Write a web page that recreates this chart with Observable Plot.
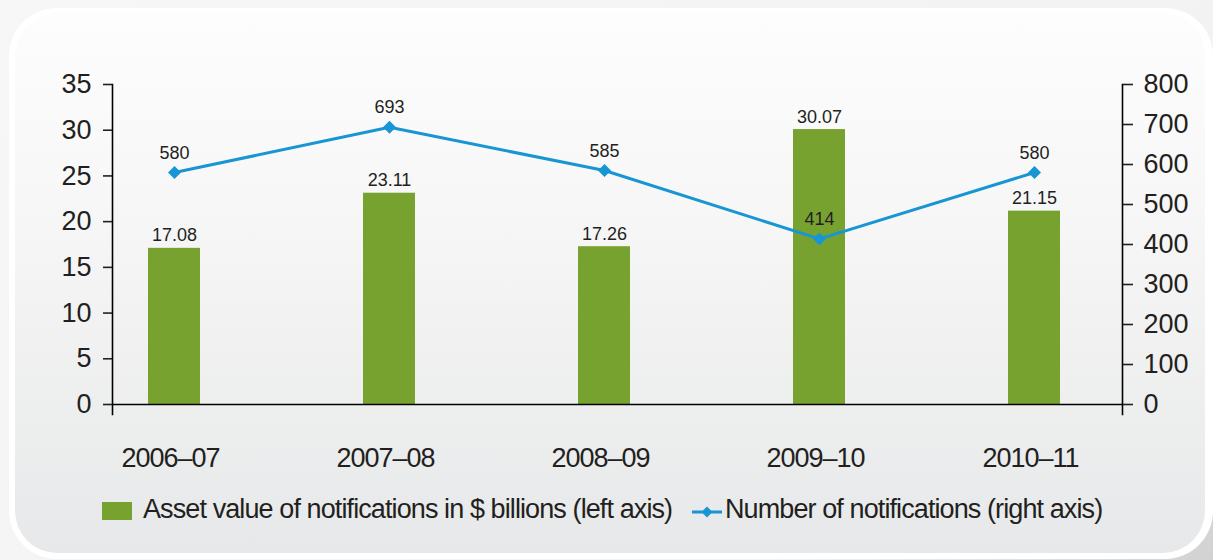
<!DOCTYPE html>
<html>
<head>
<meta charset="utf-8">
<script src="https://cdn.jsdelivr.net/npm/d3@7"></script>
<script src="https://cdn.jsdelivr.net/npm/@observablehq/plot@0.6"></script>
<style>
  html, body { margin: 0; padding: 0; }
  body {
    width: 1213px; height: 560px; overflow: hidden; position: relative;
    background: linear-gradient(135deg, #f7f7f7 0%, #f2f2f2 75%, #d2d2d2 100%);
    font-family: "Liberation Sans", Arial, Helvetica, sans-serif; color: #231f20;
  }
  #outer {
    position: absolute; left: 9px; top: 8px; width: 1204px; height: 551px;
    border-radius: 48px; background: #ffffff;
  }
  #inner {
    position: absolute; left: 15px; top: 13px; width: 1190px; height: 540px;
    border-radius: 42px;
    background: linear-gradient(180deg, #fdfdfd 0%, #f7f7f7 35%, #e7e8e9 100%);
  }
  #chart { position: absolute; left: 0; top: 0; }
  #chart svg g[aria-label="x-axis tick label"] text { letter-spacing: -1px; }
  .legend-text {
    position: absolute; font-size: 27px; line-height: 27px; letter-spacing: -0.9px;
    white-space: nowrap; color: #231f20;
  }
  #sw1 { position: absolute; left: 102px; top: 502px; width: 30px; height: 18px; background: #78a22f; }
  #sw2 { position: absolute; left: 692px; top: 502px; }
</style>
</head>
<body>
<div id="outer"></div>
<div id="inner"></div>
<div id="chart"></div>
<div id="sw1"></div>
<div class="legend-text" style="left:143px; top:496px;">Asset value of notifications in $ billions (left axis)</div>
<svg id="sw2" width="32" height="20"><line x1="0" x2="30" y1="10" y2="10" stroke="#1895d3" stroke-width="3"/><path d="M15,4.5L20.5,10L15,15.5L9.5,10Z" fill="#1895d3"/></svg>
<div class="legend-text" style="left:725px; top:496px;">Number of notifications (right axis)</div>
<script>
const years = ["2006–07", "2007–08", "2008–09", "2009–10", "2010–11"];
const assetValues = [17.08, 23.11, 17.26, 30.07, 21.15];
const notifications = [580, 693, 585, 414, 580];
const leftTicks = [0, 5, 10, 15, 20, 25, 30, 35];
const rightTicks = [0, 100, 200, 300, 400, 500, 600, 700, 800];
const leftMax = 35, rightMax = 800;
const k = leftMax / rightMax;

const rows = years.map((year, i) => ({
  year, asset: assetValues[i], count: notifications[i], countScaled: notifications[i] * k
}));

const green = "#78a22f";
const blue = "#1895d3";

const diamond = {
  draw(ctx, size) {
    const r = Math.sqrt(size / 2);
    ctx.moveTo(0, -r); ctx.lineTo(r, 0); ctx.lineTo(0, r); ctx.lineTo(-r, 0); ctx.closePath();
  }
};

const chart = Plot.plot({
  width: 1213, height: 480,
  marginTop: 84, marginBottom: 76, marginLeft: 112, marginRight: 91,
  style: { background: "transparent", fontFamily: '"Liberation Sans", Arial, sans-serif', fontSize: "27px", color: "#231f20", overflow: "visible" },
  x: { domain: years, paddingInner: 0.758, paddingOuter: 0.2256, align: 0.37, label: null },
  y: { domain: [0, leftMax], label: null },
  marks: [
    Plot.barY(rows, { x: "year", y: "asset", fill: green }),
    Plot.ruleY([0], { stroke: "#000", strokeWidth: 1.6 }),
    Plot.frame({ anchor: "left", insetBottom: -10, stroke: "#000", strokeWidth: 1.6 }),
    Plot.frame({ anchor: "right", insetBottom: -10, stroke: "#000", strokeWidth: 1.6 }),
    Plot.axisY(leftTicks, { anchor: "left", tickSize: 9, tickPadding: 12, fontSize: 27, strokeWidth: 1.6, label: null }),
    Plot.axisY(rightTicks.map(v => v * k), { anchor: "right", tickSize: 10, tickPadding: 11, fontSize: 27, strokeWidth: 1.6, tickFormat: d => String(Math.round(d / k)), label: null }),
    Plot.axisX({ tickSize: 0, tickPadding: 43, fontSize: 27, dx: -4, label: null }),
    Plot.text(rows, { x: "year", y: "asset", text: d => d.asset.toFixed(2), dy: -7, lineAnchor: "bottom", fontSize: 18, fill: "#231f20" }),
    Plot.lineY(rows, { x: "year", y: "countScaled", stroke: blue, strokeWidth: 3 }),
    Plot.dot(rows, { x: "year", y: "countScaled", symbol: diamond, r: 5.2, fill: blue, stroke: "none" }),
    Plot.text(rows, { x: "year", y: "countScaled", text: d => String(d.count), dy: -14, lineAnchor: "bottom", fontSize: 18, fill: "#231f20" })
  ]
});
document.getElementById("chart").appendChild(chart);
</script>
</body>
</html>
